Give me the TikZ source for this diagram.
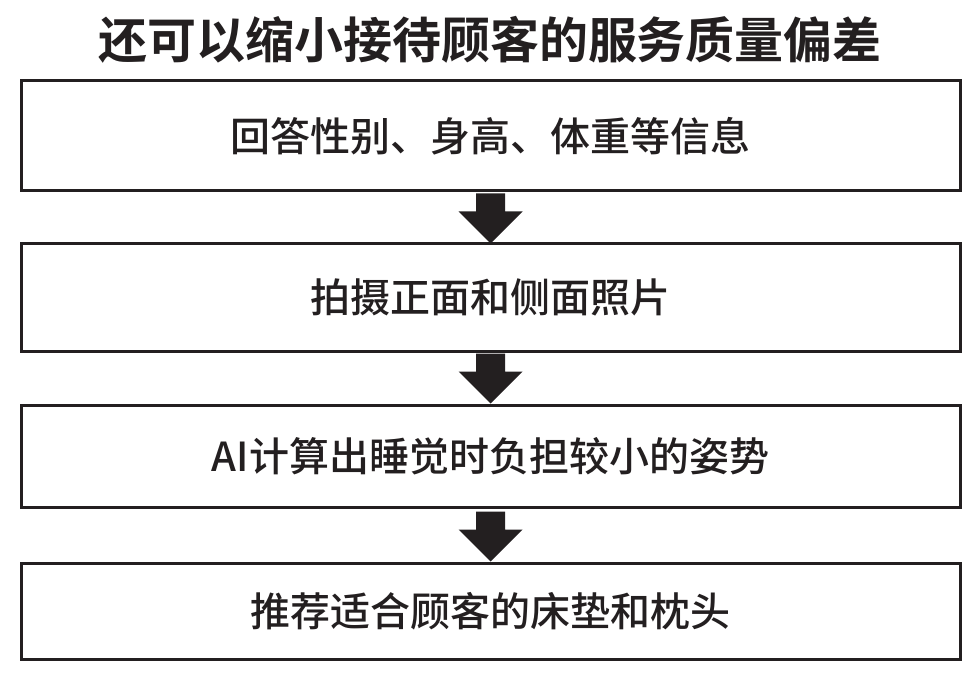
\documentclass[tikz,border=0pt]{standalone}
\usepackage{fontspec}
\setmainfont{Noto Sans CJK SC Medium}
\newfontfamily\titlefont{Noto Sans CJK SC Bold}
\usetikzlibrary{calc}
\definecolor{ink}{HTML}{231F20}
\tikzset{
  stepbox/.style={draw=ink, line width=3pt, fill=white, minimum width=939pt, inner sep=0pt,
    font=\fontsize{40}{40}\selectfont, text=ink},
  blockarrow/.style={fill=ink},
}
\newcommand{\blockarrowfrom}[2]{%
  \fill[blockarrow] ($(#1.south)+(-14.5,#2)$) -- ++(29,0) -- ++(0,18) -- ++(17.5,0)
    -- ++(-32,32) -- ++(-32,-32) -- ++(17.5,0) -- cycle;}
\begin{document}
\begin{tikzpicture}[x=1pt,y=-1pt]
\useasboundingbox[fill=white] (0,0) rectangle (980,679);
\node[font=\titlefont\fontsize{49}{49}\selectfont, text=ink] (title) at (490,40) {还可以缩小接待顾客的服务质量偏差};
\node[stepbox, minimum height=110pt] (b1) at (490.5,136) {回答性别、身高、体重等信息};
\node[stepbox, minimum height=107pt] (b2) at (490.5,297.5) {拍摄正面和侧面照片};
\node[stepbox, minimum height=102pt] (b3) at (490.5,456) {AI计算出睡觉时负担较小的姿势};
\node[stepbox, minimum height=96pt] (b4) at (490.5,611) {推荐适合顾客的床垫和枕头};
\blockarrowfrom{b1}{1}
\blockarrowfrom{b2}{1}
\blockarrowfrom{b3}{3}
\end{tikzpicture}
\end{document}
